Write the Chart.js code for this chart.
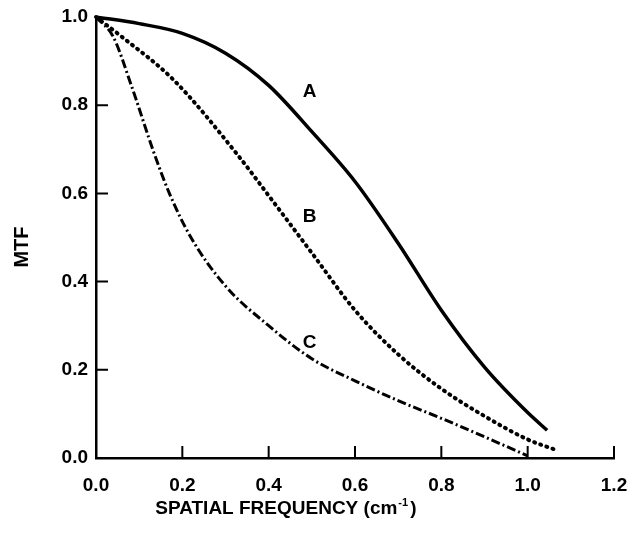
<!DOCTYPE html>
<html lang="en">
  <head>
    <meta charset="UTF-8" />
    <title>MTF</title>
    <script src="https://cdn.jsdelivr.net/npm/chart.js"></script>
    <style>
      body {
        margin: 0;
        background: #fff;
      }
      .chart-container {
        width: 631px;
        height: 534px;
      }
    </style>
  </head>
  <body>
    <div class="chart-container">
      <canvas id="mtf_chart"></canvas>
    </div>

    <script>
      // curve A (solid)
      const freqA = [0, 0.1, 0.2, 0.3, 0.4, 0.5, 0.6, 0.7, 0.8, 0.9, 1.0, 1.045];
      const mtfA = [1.0, 0.985, 0.963, 0.918, 0.845, 0.74, 0.627, 0.487, 0.335, 0.206, 0.103, 0.063];

      // curve B (dotted)
      const freqB = [0, 0.06, 0.18, 0.33, 0.4, 0.5, 0.6, 0.7, 0.8, 0.9, 1.0, 1.066];
      const mtfB = [1.0, 0.955, 0.857, 0.685, 0.595, 0.465, 0.335, 0.235, 0.157, 0.095, 0.042, 0.018];

      // curve C (dash-dot)
      const freqC = [0, 0.04, 0.08, 0.135, 0.17, 0.22, 0.3, 0.4, 0.5, 0.6, 0.7, 0.8, 0.9, 1.0];
      const mtfC = [1.0, 0.955, 0.85, 0.69, 0.6, 0.5, 0.39, 0.3, 0.225, 0.175, 0.13, 0.09, 0.048, 0.005];

      // curve labels
      const curveNames = ["A", "B", "C"];
      const labelX = [0.495, 0.495, 0.495];
      const labelY = [0.83, 0.546, 0.262];

      const xTicks = [0.2, 0.4, 0.6, 0.8, 1.0, 1.2];
      const yTicks = [0.2, 0.4, 0.6, 0.8];

      const xTitle = "SPATIAL FREQUENCY (cm";
      const xTitleSup = "-1";
      const yTitle = "MTF";

      function toPoints(xs, ys) {
        return xs.map((x, i) => ({ x: x, y: ys[i] }));
      }

      const fontFamily = "'Liberation Sans', Arial, sans-serif";

      // рисуем внутренние засечки, подписи кривых и названия осей
      const extrasPlugin = {
        id: "extras",
        afterDraw(chart) {
          const ctx = chart.ctx;
          const xs = chart.scales.x;
          const ys = chart.scales.y;
          const area = chart.chartArea;
          ctx.save();
          ctx.strokeStyle = "#000";
          ctx.lineWidth = 2;
          ctx.beginPath();
          xTicks.forEach((v) => {
            const px = xs.getPixelForValue(v);
            ctx.moveTo(px, area.bottom);
            ctx.lineTo(px, area.bottom - 12);
          });
          yTicks.forEach((v) => {
            const py = ys.getPixelForValue(v);
            ctx.moveTo(area.left, py);
            ctx.lineTo(area.left + 12, py);
          });
          ctx.stroke();

          ctx.fillStyle = "#000";
          ctx.font = "bold 19px " + fontFamily;
          ctx.textAlign = "center";
          ctx.textBaseline = "middle";
          curveNames.forEach((n, i) => {
            ctx.fillText(n, xs.getPixelForValue(labelX[i]), ys.getPixelForValue(labelY[i]));
          });

          // x axis title
          ctx.font = "bold 19px " + fontFamily;
          const mainW = ctx.measureText(xTitle + " ").width;
          ctx.font = "bold 11px " + fontFamily;
          const supW = ctx.measureText(xTitleSup).width;
          ctx.font = "bold 19px " + fontFamily;
          const closeW = ctx.measureText(")").width;
          let startX = 287 - (mainW + supW + closeW) / 2;
          ctx.textAlign = "left";
          ctx.fillText(xTitle, startX, 509);
          const cmEnd = startX + ctx.measureText(xTitle).width;
          ctx.font = "bold 11px " + fontFamily;
          ctx.fillText(xTitleSup, cmEnd + 1, 503);
          ctx.font = "bold 19px " + fontFamily;
          ctx.fillText(")", cmEnd + supW + 3, 509);

          // y axis title
          ctx.translate(22, 247);
          ctx.rotate(-Math.PI / 2);
          ctx.font = "bold 20px " + fontFamily;
          ctx.textAlign = "center";
          ctx.fillText(yTitle, 0, 0);
          ctx.restore();
        },
      };

      new Chart(document.getElementById("mtf_chart").getContext("2d"), {
        type: "line",
        data: {
          datasets: [
            {
              label: "A",
              data: toPoints(freqA, mtfA),
              borderColor: "#000",
              borderWidth: 3.5,
              pointRadius: 0,
              cubicInterpolationMode: "monotone",
              clip: false,
            },
            {
              label: "B",
              data: toPoints(freqB, mtfB),
              borderColor: "#000",
              borderWidth: 4,
              borderDash: [1, 5.5],
              borderCapStyle: "round",
              pointRadius: 0,
              cubicInterpolationMode: "monotone",
              clip: false,
            },
            {
              label: "C",
              data: toPoints(freqC, mtfC),
              borderColor: "#000",
              borderWidth: 3,
              borderDash: [9, 3, 2, 3],
              pointRadius: 0,
              cubicInterpolationMode: "monotone",
              clip: false,
            },
          ],
        },
        options: {
          responsive: true,
          maintainAspectRatio: false,
          animation: false,
          layout: {
            padding: { top: 17, right: 17, left: 0, bottom: 0 },
          },
          plugins: {
            legend: { display: false },
            tooltip: { enabled: false },
          },
          scales: {
            x: {
              type: "linear",
              min: 0,
              max: 1.2,
              afterFit: (s) => {
                s.height = 76;
                s.paddingLeft = 0;
                s.paddingRight = 0;
              },
              ticks: {
                stepSize: 0.2,
                color: "#000",
                padding: 16,
                font: { family: fontFamily, size: 19, weight: "bold" },
                callback: (v) => v.toFixed(1),
                maxRotation: 0,
              },
              grid: { display: false, drawTicks: false },
              border: { display: true, color: "#000", width: 2.5 },
            },
            y: {
              type: "linear",
              min: 0,
              max: 1.0,
              afterFit: (s) => {
                s.width = 96;
                s.paddingTop = 0;
                s.paddingBottom = 0;
              },
              ticks: {
                stepSize: 0.2,
                color: "#000",
                padding: 8,
                font: { family: fontFamily, size: 19, weight: "bold" },
                callback: (v) => v.toFixed(1),
              },
              grid: { display: false, drawTicks: false },
              border: { display: true, color: "#000", width: 2.5 },
            },
          },
        },
        plugins: [extrasPlugin],
      });
    </script>
  </body>
</html>
